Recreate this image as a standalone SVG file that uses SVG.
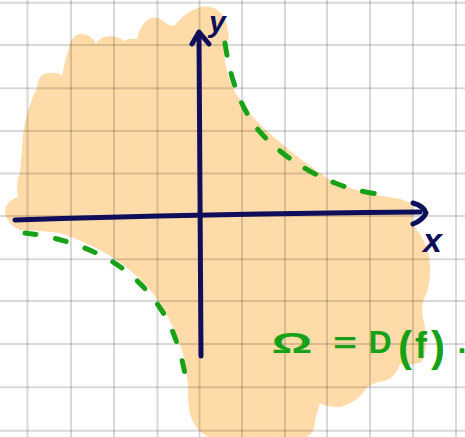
<svg xmlns="http://www.w3.org/2000/svg" width="465" height="437" viewBox="0 0 465 437">
<style>
.grid line{stroke:#000;stroke-opacity:0.15;stroke-width:2}
.axis{fill:none;stroke:#0e0e5a;stroke-width:5;stroke-linecap:round;stroke-linejoin:round}
.dash{fill:none;stroke:#17a117;stroke-width:5;stroke-linecap:round}
.lblN{fill:#0e0e5a;font-family:"Liberation Sans",Arial,sans-serif;font-weight:bold;font-style:italic}
.lblG{fill:#17a117;font-family:"Liberation Sans",Arial,sans-serif;font-weight:bold;text-anchor:middle}
</style>
<rect width="465" height="437" fill="#ffffff"/>
<g id="domain">
<path fill="#fedba9" d="M70,43 Q74,33 83,34 Q92,35 96,44 Q100,36 110,36 Q120,37 124,41 Q130,38 137,39 Q140,24 150,18 Q158,16 163,21 Q170,27 175,25 Q185,12 200,7 Q212,5 220,12 Q228,20 229,38 L224,45 Q224,75 237,95 Q250,118 275,138 Q300,160 330,180 Q360,194 395,198 Q410,200 413,208 L412,224 Q424,236 429,256 Q432,275 427,292 Q420,305 423,318 Q430,345 422,362 Q410,366 400,364 Q396,378 384,381 Q370,383 365,390 Q358,402 340,407 Q325,407 320,403 Q316,415 314,428 Q311,437 300,440 L215,440 Q200,435 193,422 Q187,410 188,385 Q186,360 180,345 Q172,322 158,300 Q140,275 112,257 Q90,243 60,233 Q35,230 20,230 Q7,225 5,212 Q6,200 18,197 Q15,185 20,172 Q22,150 23,135 Q26,110 37,88 Q38,74 48,73 Q58,72 62,76 Q65,60 70,43 Z"/>
</g>
<g id="grid" class="grid">
<line x1="27.5" y1="0" x2="27.5" y2="437"/>
<line x1="71" y1="0" x2="71" y2="437"/>
<line x1="114" y1="0" x2="114" y2="437"/>
<line x1="157.5" y1="0" x2="157.5" y2="437"/>
<line x1="199.5" y1="0" x2="199.5" y2="437"/>
<line x1="242" y1="0" x2="242" y2="437"/>
<line x1="285" y1="0" x2="285" y2="437"/>
<line x1="327" y1="0" x2="327" y2="437"/>
<line x1="370" y1="0" x2="370" y2="437"/>
<line x1="413" y1="0" x2="413" y2="437"/>
<line x1="456" y1="0" x2="456" y2="437"/>
<line x1="0" y1="2.7" x2="465" y2="2.7"/>
<line x1="0" y1="45" x2="465" y2="45"/>
<line x1="0" y1="88.3" x2="465" y2="88.3"/>
<line x1="0" y1="131" x2="465" y2="131"/>
<line x1="0" y1="173.5" x2="465" y2="173.5"/>
<line x1="0" y1="216" x2="465" y2="216"/>
<line x1="0" y1="259.3" x2="465" y2="259.3"/>
<line x1="0" y1="301" x2="465" y2="301"/>
<line x1="0" y1="344" x2="465" y2="344"/>
<line x1="0" y1="387.3" x2="465" y2="387.3"/>
<line x1="0" y1="430.7" x2="465" y2="430.7"/>
</g>
<g id="boundary">
<path class="dash" stroke-dasharray="12 19" d="M225,43 Q233,100 260,132 Q290,165 335,183 Q355,191 378,194"/>
<path class="dash" stroke-dasharray="11 20" d="M25,233 Q70,238 110,260 Q150,285 170,325 Q183,355 187,387"/>
</g>
<g id="axes">
<path id="x-axis" class="axis" d="M15,220 Q200,214 420,212"/>
<path class="axis" d="M413,203 Q424,206 426,213 Q423,220 413,224"/>
<path id="y-axis" class="axis" d="M199,36 L201,356"/>
<path class="axis" d="M192,44 L199,32 L209,44"/>
</g>
<g id="labels">
<text class="lblN" x="209" y="32" font-size="30">y</text>
<text class="lblN" x="423" y="252" font-size="34">x</text>
<text class="lblG" font-size="30" transform="translate(292,353) scale(1.7,1)" x="0" y="0">Ω</text>
<text class="lblG" font-size="30" transform="translate(345,353) scale(1.35,1)" x="0" y="0">=</text>
<text class="lblG" y="353" font-size="32"><tspan x="380">D</tspan><tspan x="405" y="361" font-size="42">(</tspan><tspan x="421" y="358" font-size="36">f</tspan><tspan x="438" y="361" font-size="42">)</tspan><tspan x="462" y="353" font-size="32">.</tspan></text>
</g>
</svg>
